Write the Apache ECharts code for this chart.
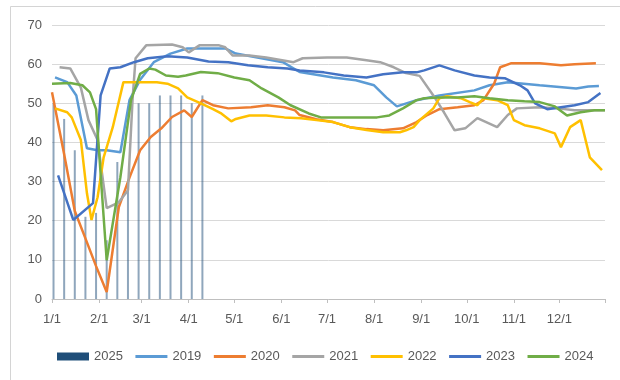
<!DOCTYPE html>
<html>
<head>
<meta charset="utf-8">
<script src="https://cdn.jsdelivr.net/npm/echarts@6/dist/echarts.min.js"></script>
<style>
  html, body { margin: 0; padding: 0; background: #ffffff; }
  #chart { width: 620px; height: 380px; }
</style>
</head>
<body>
<div id="chart"></div>
<script>
// Day labels for one calendar year (M/D), used as the x categories
const monthLengths = [31, 28, 31, 30, 31, 30, 31, 31, 30, 31, 30, 31];
const dayLabels = [];
monthLengths.forEach((len, m) => {
  for (let d = 1; d <= len; d++) dayLabels.push((m + 1) + '/' + d);
});

const yTicks = { min: 0, max: 70, step: 10 };

// 2025 weekly readings (bars)
const s2025 = [
  ['1/2', 50], ['1/9', 46], ['1/16', 38], ['1/23', 21], ['1/30', 22],
  ['2/6', 15], ['2/13', 35], ['2/20', 28], ['2/27', 50], ['3/6', 50],
  ['3/13', 52], ['3/20', 52], ['3/27', 52], ['4/3', 50], ['4/10', 52]
];

const s2019 = [
  ['1/3', 56.6], ['1/11', 55.4], ['1/17', 52], ['1/24', 38.5], ['1/31', 38],
  ['2/6', 38], ['2/15', 37.5], ['2/21', 50.8], ['2/28', 56], ['3/9', 60.5],
  ['3/20', 62.7], ['3/31', 64], ['4/19', 64], ['4/25', 64], ['5/2', 62.7],
  ['6/2', 60.5], ['6/13', 58], ['7/5', 56.6], ['7/20', 55.9], ['8/1', 54.6],
  ['8/9', 51.5], ['8/16', 49.2], ['8/29', 50.8], ['9/13', 52], ['10/6', 53.3],
  ['10/16', 54.6], ['10/28', 55.4], ['11/18', 54.6], ['12/12', 53.8],
  ['12/20', 54.3], ['12/27', 54.4]
];

const s2020 = [
  ['1/1', 52.8], ['1/9', 37], ['1/16', 22.5], ['1/23', 15.5], ['1/30', 8.4],
  ['2/6', 1.8], ['2/14', 23.5], ['2/21', 31], ['2/28', 38], ['3/7', 41.4],
  ['3/14', 43.6], ['3/21', 46.5], ['3/29', 48.2], ['4/3', 46.5], ['4/10', 50.8],
  ['4/17', 49.5], ['4/27', 48.7], ['5/12', 49], ['5/23', 49.5], ['6/3', 49],
  ['6/10', 48.2], ['6/13', 47], ['6/24', 45.9], ['7/5', 45.2], ['7/16', 43.9],
  ['7/27', 43.4], ['8/7', 43.1], ['8/20', 43.6], ['8/29', 45.2], ['9/5', 47],
  ['9/13', 48.5], ['9/25', 49], ['10/6', 49.5], ['10/12', 50.8], ['10/19', 55],
  ['10/23', 59.2], ['10/30', 60.2], ['11/18', 60.2], ['12/2', 59.7],
  ['12/11', 60], ['12/25', 60.2]
];

const s2021 = [
  ['1/6', 59.2], ['1/13', 58.9], ['1/20', 54], ['1/25', 45.7], ['1/31', 40.6],
  ['2/6', 23.2], ['2/14', 24.7], ['2/20', 27.8], ['2/23', 50.8], ['2/25', 61.5],
  ['3/4', 64.8], ['3/21', 65], ['3/28', 64.3], ['4/1', 63], ['4/8', 64.8],
  ['4/21', 64.8], ['4/25', 64.3], ['4/30', 62.2], ['5/11', 62.2], ['5/22', 61.7],
  ['6/9', 60.5], ['6/15', 61.5], ['7/1', 61.7], ['7/14', 61.7], ['7/27', 61],
  ['8/5', 60.5], ['8/14', 59.2], ['8/22', 57.7], ['8/31', 57], ['9/9', 52],
  ['9/16', 47.7], ['9/23', 43.1], ['9/30', 43.6], ['10/8', 46.2], ['10/21', 43.9],
  ['10/28', 47], ['11/3', 48.7], ['11/18', 49], ['11/30', 48.7], ['12/11', 48.2],
  ['12/31', 48.2]
];

const s2022 = [
  ['1/3', 48.7], ['1/11', 47.7], ['1/14', 46.4], ['1/20', 40.6], ['1/24', 27],
  ['1/27', 20.2], ['1/31', 26], ['2/4', 36.2], ['2/10', 43.9], ['2/17', 55.4],
  ['2/28', 55.4], ['3/11', 55.4], ['3/18', 55], ['3/25', 53.8], ['3/31', 51.5],
  ['4/9', 50], ['4/17', 48.5], ['4/22', 47.5], ['4/29', 45.4], ['5/2', 46],
  ['5/11', 46.9], ['5/22', 46.9], ['6/3', 46.4], ['6/14', 46.2], ['6/24', 45.7],
  ['7/5', 45.2], ['7/16', 43.9], ['7/27', 43.2], ['8/7', 42.6], ['8/18', 42.6],
  ['8/22', 43.1], ['8/27', 43.9], ['8/31', 45.7], ['9/9', 48.7], ['9/13', 51.3],
  ['9/18', 51.8], ['9/27', 51.3], ['10/3', 50.3], ['10/8', 49.5], ['10/12', 51.3],
  ['10/21', 50.8], ['10/28', 49.5], ['11/1', 45.7], ['11/8', 44.4], ['11/18', 43.6],
  ['11/28', 42.3], ['12/2', 38.8], ['12/8', 43.9], ['12/15', 45.7], ['12/21', 36.2],
  ['12/29', 32.9]
];

const s2023 = [
  ['1/5', 31.6], ['1/15', 20.2], ['1/28', 24.5], ['2/2', 52], ['2/8', 58.9],
  ['2/15', 59.2], ['2/24', 60.5], ['3/5', 61.5], ['3/18', 62], ['3/31', 61.7],
  ['4/14', 60.7], ['4/27', 60.5], ['5/10', 59.7], ['5/23', 59.2], ['6/5', 58.9],
  ['6/13', 58.4], ['6/29', 57.9], ['7/12', 57.1], ['7/27', 56.6], ['8/7', 57.4],
  ['8/20', 57.9], ['8/29', 57.9], ['9/3', 58.4], ['9/13', 59.7], ['9/23', 58.4],
  ['10/6', 57.1], ['10/16', 56.6], ['10/26', 56.4], ['11/5', 54.6], ['11/10', 53.3],
  ['11/15', 50], ['11/23', 48.5], ['12/2', 49], ['12/11', 49.5], ['12/20', 50.3],
  ['12/28', 52.6]
];

const s2024 = [
  ['1/1', 55], ['1/13', 55.2], ['1/21', 54.6], ['1/26', 52.8], ['1/30', 48.5],
  ['2/6', 9.9], ['2/15', 31.1], ['2/22', 50.8], ['2/28', 57.5], ['3/6', 58.9],
  ['3/10', 58.6], ['3/17', 57.1], ['3/25', 56.8], ['3/30', 57.1], ['4/9', 58],
  ['4/20', 57.7], ['5/1', 56.6], ['5/11', 55.9], ['5/19', 53.8], ['5/30', 51.5],
  ['6/7', 49.5], ['6/19', 47.4], ['6/27', 46.4], ['7/5', 46.4], ['7/16', 46.4],
  ['8/3', 46.4], ['8/11', 46.9], ['8/20', 48.7], ['8/29', 50.8], ['9/3', 51.3],
  ['9/13', 51.5], ['9/25', 51.5], ['10/6', 51.8], ['10/16', 51.3], ['10/28', 50.8],
  ['11/8', 50.5], ['11/18', 50.3], ['11/28', 49.2], ['12/6', 46.9], ['12/15', 47.7],
  ['12/24', 48.2], ['12/31', 48.2]
];

const lineSeries = [
  { name: '2019', data: s2019, color: '#5b9bd5' },
  { name: '2020', data: s2020, color: '#ed7d31' },
  { name: '2021', data: s2021, color: '#a5a5a5' },
  { name: '2022', data: s2022, color: '#ffc000' },
  { name: '2023', data: s2023, color: '#4472c4' },
  { name: '2024', data: s2024, color: '#70ad47' }
];

const font = "'Liberation Sans Narrow', 'Liberation Sans', sans-serif";
const isMonthStart = (idx, val) => /\/1$/.test(val);

const chart = echarts.init(document.getElementById('chart'), null, { renderer: 'canvas' });

chart.setOption({
  animation: false,
  backgroundColor: '#ffffff',
  graphic: [{
    type: 'rect',
    left: 8, top: 4,
    shape: { width: 640, height: 400 },
    style: { fill: 'none', stroke: '#d4d4d4', lineWidth: 1 },
    silent: true
  }],
  grid: { left: 52, right: 15, top: 25, bottom: 81 },
  legend: {
    bottom: 12,
    left: 52,
    itemWidth: 32,
    itemHeight: 8,
    itemGap: 11,
    // line items show only their stroke, no marker in the middle
    itemStyle: { opacity: 0 },
    lineStyle: { width: 3 },
    textStyle: { color: '#595959', fontSize: 13, fontFamily: font },
    data: [
      { name: '2025', icon: 'rect', itemStyle: { color: '#1f4e79', opacity: 1 } },
      '2019', '2020', '2021', '2022', '2023', '2024'
    ]
  },
  xAxis: {
    type: 'category',
    data: dayLabels,
    boundaryGap: false,
    axisLine: { lineStyle: { color: '#bfbfbf', width: 1 } },
    axisTick: {
      show: true,
      interval: (idx, val) => isMonthStart(idx, val) || idx === dayLabels.length - 1,
      length: 4,
      lineStyle: { color: '#bfbfbf' }
    },
    axisLabel: {
      interval: isMonthStart,
      color: '#595959',
      fontSize: 13,
      fontFamily: font,
      margin: 14
    },
    splitLine: { show: false }
  },
  yAxis: {
    type: 'value',
    min: yTicks.min,
    max: yTicks.max,
    interval: yTicks.step,
    axisLine: { show: false },
    axisTick: { show: false },
    axisLabel: { color: '#595959', fontSize: 13, fontFamily: font, margin: 10 },
    splitLine: { lineStyle: { color: '#d9d9d9', width: 1 } }
  },
  series: [
    {
      name: '2025',
      type: 'bar',
      data: s2025,
      barWidth: 2,
      itemStyle: { color: '#1f4e79', opacity: 0.5 },
      z: 1
    }
  ].concat(lineSeries.map(s => ({
    name: s.name,
    type: 'line',
    data: s.data,
    symbol: 'none',
    showSymbol: false,
    connectNulls: true,
    lineStyle: { color: s.color, width: 2.5 },
    itemStyle: { color: s.color },
    z: 2
  })))
});
</script>
</body>
</html>
